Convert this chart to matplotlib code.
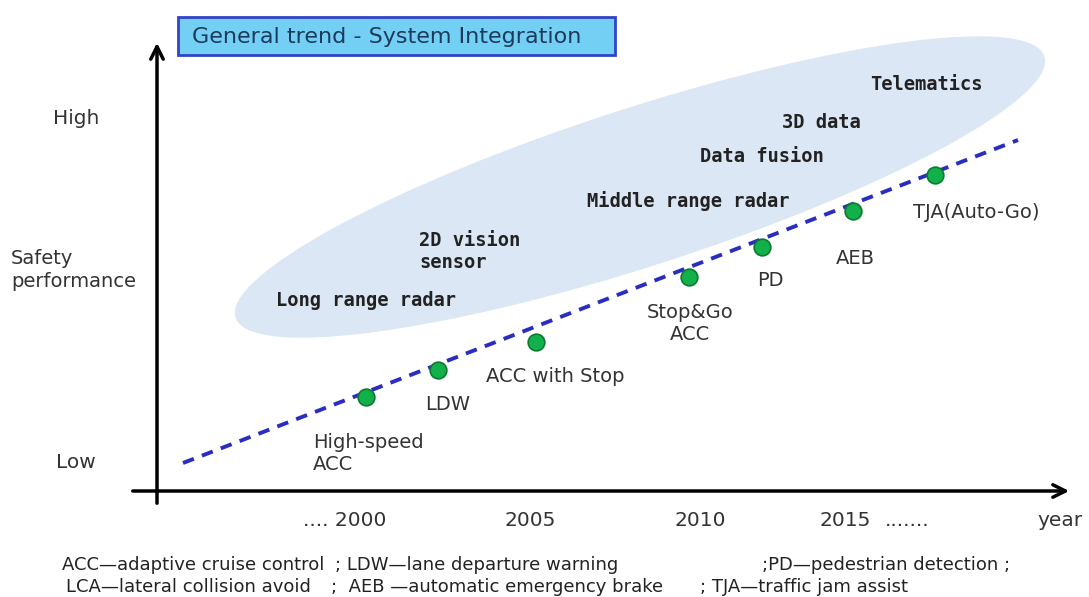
import matplotlib.pyplot as plt
from matplotlib.patches import Ellipse, Rectangle

# drawing units: one unit per pixel, y grows downward
W, H = 1089, 597

# milestones along the trend line
milestones = ['High-speed\nACC', 'LDW', 'ACC with Stop', 'Stop&Go\nACC', 'PD', 'AEB', 'TJA(Auto-Go)']
milestone_x = [366, 438, 536, 689, 762, 853, 935]
milestone_y = [397, 370, 342, 277, 247, 211, 175]

# where each milestone name sits (x, y, alignment)
milestone_lbl_x = [313, 448, 486, 690, 770, 855, 913]
milestone_lbl_y = [453, 405, 377, 324, 280, 258, 213]
milestone_lbl_ha = ['left', 'center', 'left', 'center', 'center', 'center', 'left']

# trend line end points
trend_x = [183, 1018]
trend_y = [463, 140]

# technology labels inside the blob (centre of each label)
tech_labels = ['Long range radar', '2D vision\nsensor', 'Middle range radar', 'Data fusion', '3D data', 'Telematics']
tech_x = [366, 470, 688, 762, 821, 926]
tech_y = [300, 252, 201, 156, 122, 85]

# x axis labels
year_labels = ['.... 2000', '2005', '2010', '2015', '.......', 'year']
year_x = [345, 530, 700, 845, 907, 1060]

# abbreviation notes, split in columns
note_text = [['ACC\u2014adaptive cruise control', '; LDW\u2014lane departure warning', ';PD\u2014pedestrian detection ;'],
             ['LCA\u2014lateral collision avoid', ';  AEB \u2014automatic emergency brake', '; TJA\u2014traffic jam assist']]
note_x = [[62, 335, 762], [66, 331, 700]]

TXT = '#333333'
NAVY = '#1c3a5c'
SANS = 'DejaVu Sans'

fig = plt.figure(figsize=(W / 100, H / 100), dpi=100)
ax = fig.add_axes([0, 0, 1, 1])
ax.set_xlim(0, W)
ax.set_ylim(H, 0)
ax.axis('off')

# blob of technologies
ax.add_patch(Ellipse((640, 187), 850, 158, angle=-17.9, facecolor='#dce7f6', edgecolor='none', zorder=1))

# title box
ax.add_patch(Rectangle((178, 17), 437, 38, facecolor='#74cff5', edgecolor='#2f44c8', lw=2, zorder=2))
ax.text(192, 37, 'General trend - System Integration', fontsize=16, family=SANS,
        color=NAVY, va='center', ha='left', zorder=3)

# axes with arrow heads
arrow = dict(arrowstyle='->, head_length=0.9, head_width=0.45', lw=2.5, color='black')
ax.annotate('', xy=(157, 40), xytext=(157, 506), arrowprops=arrow)
ax.annotate('', xy=(1072, 491), xytext=(130, 491), arrowprops=arrow)

# y labels
ax.text(76, 119, 'High', fontsize=14.5, family=SANS, color=TXT, ha='center', va='center')
ax.text(11, 270, 'Safety\nperformance', fontsize=14, family=SANS, color=TXT,
        ha='left', va='center', linespacing=1.3)
ax.text(76, 463, 'Low', fontsize=14.5, family=SANS, color=TXT, ha='center', va='center')

# year labels
for lbl, x in zip(year_labels, year_x):
    ax.text(x, 520, lbl, fontsize=14.5, family=SANS, color=TXT, ha='center', va='center')

# trend line and milestones
ax.plot(trend_x, trend_y, color='#2a2ec0', lw=2.8, linestyle=(0, (3.0, 2.2)), zorder=4)
ax.plot(milestone_x, milestone_y, 'o', ms=12, color='#12b04a', mec='#0b7a30', mew=1.2, zorder=5)

for name, x, y, ha in zip(milestones, milestone_lbl_x, milestone_lbl_y, milestone_lbl_ha):
    ax.text(x, y, name, fontsize=14, family=SANS, color=TXT, ha=ha, va='center',
            linespacing=1.2, zorder=6)

for name, x, y in zip(tech_labels, tech_x, tech_y):
    ax.text(x, y, name, fontsize=13.5, family='DejaVu Sans Mono', weight='bold', color='#222222',
            ha='center', multialignment='left', va='center', linespacing=1.2, zorder=6)

# abbreviation notes under the chart
for row, (texts, xs) in enumerate(zip(note_text, note_x)):
    for t, x in zip(texts, xs):
        ax.text(x, 565 + 22 * row, t, fontsize=13, family=SANS, color='#222222', ha='left', va='center')

fig.savefig('out.png', dpi=100)
